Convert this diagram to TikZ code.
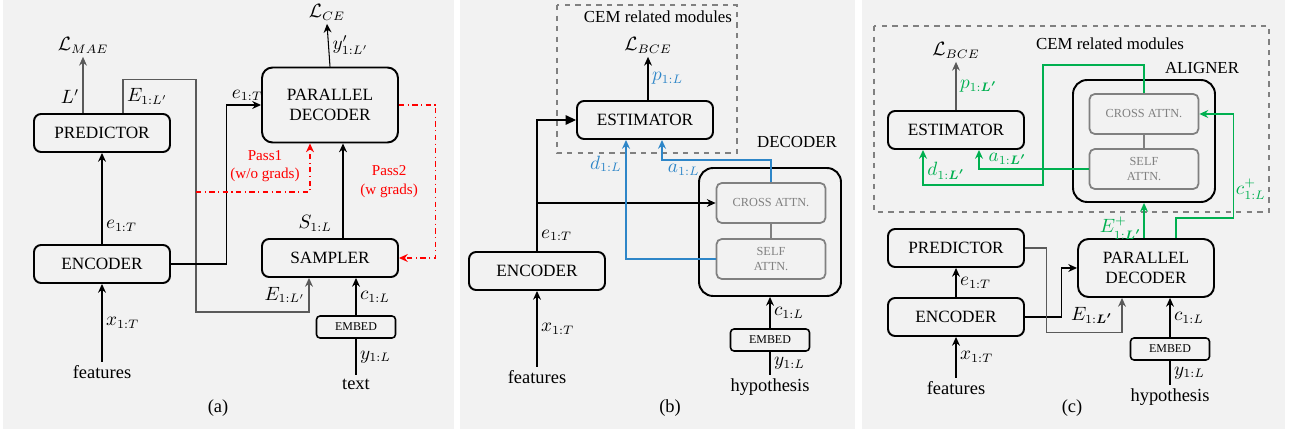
\documentclass[tikz,border=0pt]{standalone}
\usepackage{amsmath}
\usepackage{amssymb}
\usepackage{xcolor}
\usepackage{fontspec}
\setmainfont{LiberationSerif}[Extension=.ttf,UprightFont=*-Regular,BoldFont=*-Bold,ItalicFont=*-Italic,BoldItalicFont=*-BoldItalic]
\usepackage{tikz}
\usetikzlibrary{positioning,calc,arrows.meta}
\definecolor{panelbg}{HTML}{F2F2F2}
\definecolor{boxgray}{HTML}{808080}
\definecolor{linegray}{HTML}{5A5A5A}
\definecolor{cemblue}{HTML}{2E86C8}
\definecolor{cemgreen}{HTML}{00B050}
\definecolor{passred}{HTML}{FF0000}

\begin{document}
\begin{tikzpicture}[x=0.02cm,y=-0.02cm,
    every node/.style={font=\rmfamily\fontsize{10.5}{12}\selectfont,inner sep=2pt},
    blk/.style={draw,line width=1.1pt,rounded corners=4pt,minimum width=2.72cm,minimum height=0.76cm,align=center,inner sep=1pt,font=\rmfamily\fontsize{9.8}{11.5}\selectfont},
    bigblk/.style={blk,rounded corners=6pt},
    outerblk/.style={draw,line width=1.1pt,rounded corners=8pt},
    attnblk/.style={draw=boxgray,line width=1pt,rounded corners=3pt,minimum width=2.18cm,minimum height=0.8cm,text=boxgray,align=center,inner sep=1pt,font=\rmfamily\fontsize{7}{9}\selectfont},
    embedblk/.style={draw,line width=0.9pt,rounded corners=2pt,minimum width=1.58cm,minimum height=0.44cm,inner sep=1pt,font=\rmfamily\fontsize{6.8}{8}\selectfont},
    cembox/.style={draw=boxgray,dashed,line width=0.9pt},
    grouplabel/.style={font=\rmfamily\fontsize{9.6}{11}\selectfont},
    passlabel/.style={text=passred,align=center,font=\rmfamily\fontsize{8.6}{10.5}\selectfont},
    arr/.style={-{Stealth[length=5pt,width=4.5pt]},line width=0.6pt},
    garr/.style={arr,draw=linegray},
    passarr/.style={arr,draw=passred,dash dot},
    ]
    \useasboundingbox (0,0) rectangle (1295,432);
    \fill[panelbg] (3,0) rectangle (454,429);
    \fill[panelbg] (460,0) rectangle (855,429);
    \fill[panelbg] (862,0) rectangle (1285,429);

    % (a)
    \node [blk] (preda) at (102,133) {PREDICTOR};
    \node [blk] (enca) at (102,264) {ENCODER};
    \node (feata) at (102,372) {features};
    \node (lmae) at (83,45) {$\mathcal{L}_{MAE}$};
    \node [bigblk,minimum height=1.5cm] (pda) at (330,105) {PARALLEL\\DECODER};
    \node [blk] (sampa) at (330,258) {SAMPLER};
    \node [embedblk] (emba) at (356,327) {EMBED};
    \node (texta) at (356,384) {text};
    \node (lce) at (327,12) {$\mathcal{L}_{CE}$};
    \node (capa) at (218,408) {(a)};
    \draw[arr] (feata) -- (enca) node[midway,right] {$x_{1:T}$};
    \draw[arr] (enca) -- (preda) node[pos=0.2,right] {$e_{1:T}$};
    \draw[garr] (preda.north -| lmae) -- (lmae.south) node[pos=0.3,left] {$L'$};
    \draw[garr] ($(preda.north)+(21,0)$) -- ++(0,-34) node[midway,right] {$E_{1:L'}$}
        -| (196,312) -| ($(sampa.south)+(-21,0)$) node[pos=0.75,left] {$E_{1:L'}$};
    \draw[arr] (enca.east) -- ++(56,0) |- (pda.west) node[pos=0.8,above] {$e_{1:T}$};
    \draw[arr] (pda.north) -- (lce.south) node[midway,right] {$y'_{1:L'}$};
    \draw[arr] ($(sampa.north)+(13,0)$) -- ($(pda.south)+(13,0)$) node[pos=0.15,left=4pt] {$S_{1:L}$};
    \draw[arr] (emba.north) -- (emba.north |- sampa.south) node[midway,right] {$c_{1:L}$};
    \draw[line width=0.6pt] (texta.north) -- (emba.south) node[midway,right] {$y_{1:L}$};
    \draw[passarr] (196,192) -| ($(pda.south)+(-20,0)$);
    \node[passlabel] (pass1) at (265,166) {Pass1\\(w/o grads)};
    \draw[passarr] (pda.east) -- ++(37,0) |- (sampa.east) node[pos=0.25,left=8pt,passlabel] {Pass2\\(w grads)};

    % (b)
    \draw[cembox] (557,5) rectangle (737,153);
    \node[grouplabel] (cemb) at (658,17) {CEM related modules};
    \node [blk] (encb) at (537,271) {ENCODER};
    \node (featb) at (537,377) {features};
    \node [blk] (estb) at (645,120) {ESTIMATOR};
    \node (lbceb) at (648,45) {$\mathcal{L}_{BCE}$};
    \node [outerblk,minimum width=2.84cm,minimum height=2.56cm] (decb) at (770,232) {};
    \node[grouplabel] (decnameb) at (797,142) {DECODER};
    \node [attnblk] (crossb) at (771,203) {CROSS ATTN.};
    \node [attnblk] (selfb) at (771,259) {SELF\\ATTN.};
    \node [embedblk] (embb) at (770,340) {EMBED};
    \node (hypb) at (770,387) {hypothesis};
    \node (capb) at (670,408) {(b)};
    \draw[arr] (featb) -- (encb) node[midway,right] {$x_{1:T}$};
    \draw[-{Triangle[length=6pt,width=5.5pt]},line width=0.6pt] (encb.north) |- (estb.west) node[pos=0.06,right] {$e_{1:T}$};
    \draw[arr] (encb.north |- crossb.west) -- (crossb.west);
    \draw[arr] (estb.north -| lbceb) -- (lbceb.south) node[midway,right,text=cemblue] {$p_{1:L}$};
    \draw[boxgray,line width=0.8pt] (crossb.south) -- (selfb.north);
    \draw[arr,cemblue,line width=0.9pt] (selfb.west) -| ($(estb.south)+(-19,0)$) node[pos=0.9,left] {$d_{1:L}$};
    \draw[arr,cemblue,line width=0.9pt] (crossb.north) -- ++(0,-22) -| ($(estb.south)+(17,0)$) node[pos=0.4,below] {$a_{1:L}$};
    \draw[arr] (embb.north) -- (decb.south) node[midway,right] {$c_{1:L}$};
    \draw[line width=0.6pt] (hypb.north) -- (embb.south) node[midway,right] {$y_{1:L}$};

    % (c)
    \draw[cembox] (874,26) rectangle (1269,212);
    \node[grouplabel] (cemc) at (1110,44) {CEM related modules};
    \node [blk] (estc) at (956,130) {ESTIMATOR};
    \node (lbcec) at (956,50) {$\mathcal{L}_{BCE}$};
    \node [outerblk,minimum width=2.84cm,minimum height=2.44cm] (alignc) at (1144,141) {};
    \node[grouplabel] (alignnamec) at (1202,68) {ALIGNER};
    \node [attnblk] (crossc) at (1144,114) {CROSS ATTN.};
    \node [attnblk] (selfc) at (1144,169) {SELF\\ATTN.};
    \node [bigblk,minimum height=1.16cm] (pdc) at (1146,268) {PARALLEL\\DECODER};
    \node [blk] (predc) at (956,248) {PREDICTOR};
    \node [blk] (encc) at (956,317) {ENCODER};
    \node (featc) at (956,388) {features};
    \node [embedblk] (embc) at (1170,349) {EMBED};
    \node (hypc) at (1170,397) {hypothesis};
    \node (capc) at (1072,408) {(c)};
    \draw[garr] (estc.north) -- (lbcec.south) node[midway,right,text=cemgreen] {$p_{1:\boldsymbol{L'}}$};
    \draw[arr,cemgreen,line width=0.9pt] (crossc.north) -- ++(0,-28) -| (1043,185) -| ($(estc.south)+(-33,0)$) node[pos=0.7,right] {$d_{1:\boldsymbol{L'}}$};
    \draw[arr,cemgreen,line width=0.9pt] (selfc.west) -| ($(estc.south)+(23,0)$) node[pos=0.37,above] {$a_{1:\boldsymbol{L'}}$};
    \draw[boxgray,line width=0.8pt] (crossc.south) -- (selfc.north);
    \draw[arr,cemgreen,line width=0.9pt] (pdc.north -| alignc.south) -- (alignc.south) node[pos=0.28,left,inner sep=1pt] {$E^{+}_{1:\boldsymbol{L'}}$};
    \draw[arr,cemgreen,line width=0.9pt] ($(pdc.north)+(30,0)$) -- ++(0,-20) -| ($(crossc.east)+(34,0)$) node[pos=0.64,right,inner sep=1pt] {$c^{+}_{1:L}$} -- (crossc.east);
    \draw[arr] (featc) -- (encc) node[midway,right] {$x_{1:T}$};
    \draw[arr] (encc) -- (predc) node[midway,right] {$e_{1:T}$};
    \draw[arr] (encc.east) -- ++(37,0) |- (pdc.west);
    \draw[garr] (predc.east) -- ++(22,0) |- ($(pdc.south)+(-24,35)$) -- ($(pdc.south)+(-24,0)$) node[midway,left=3pt] {$E_{1:\boldsymbol{L'}}$};
    \draw[arr] (embc.north) -- (embc.north |- pdc.south) node[midway,right] {$c_{1:L}$};
    \draw[line width=0.6pt] (hypc.north) -- (embc.south) node[midway,right] {$y_{1:L}$};
\end{tikzpicture}
\end{document}
